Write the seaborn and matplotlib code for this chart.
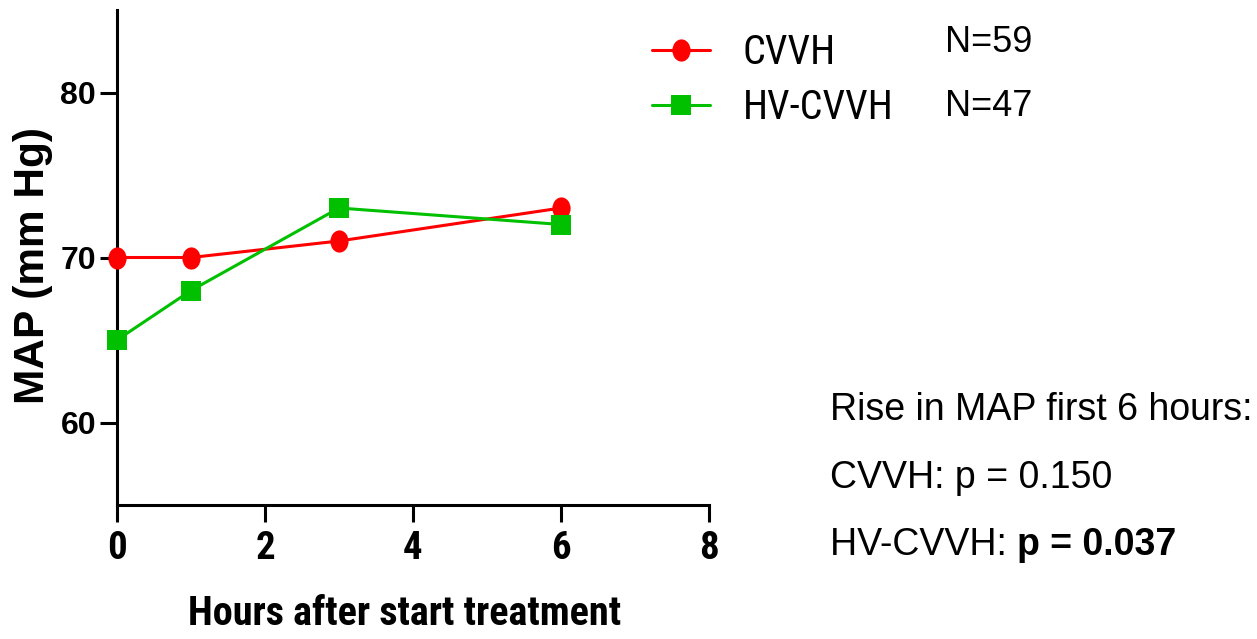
import matplotlib
matplotlib.use("Agg")
import matplotlib.pyplot as plt
from matplotlib.path import Path
from matplotlib.transforms import Affine2D
import seaborn as sns
import pandas as pd

# ---- data ----
hours = [0, 1, 3, 6]
cvvh_map = [70, 70, 71, 73]
hvcvvh_map = [65, 68, 73, 72]
series_names = ["CVVH", "HV-CVVH"]
n_labels = ["N=59", "N=47"]
x_ticks = [0, 2, 4, 6, 8]
y_ticks = [60, 70, 80]
x_label = "Hours after start treatment"
y_label = "MAP (mm Hg)"
note_lines = ["Rise in MAP first 6 hours:", "CVVH: p = 0.150", "HV-CVVH: "]
note_bold = "p = 0.037"

sns.set_style("ticks")
plt.rcParams["font.family"] = ["Liberation Sans", "DejaVu Sans"]
plt.rcParams["text.color"] = "black"
plt.rcParams["axes.labelcolor"] = "black"
plt.rcParams["xtick.color"] = "black"
plt.rcParams["ytick.color"] = "black"
plt.rcParams["axes.edgecolor"] = "black"

NARROW = ["Liberation Sans Narrow", "Roboto Condensed", "Archivo Narrow", "DejaVu Sans"]
ARIAL = ["Liberation Sans", "Arimo", "DejaVu Sans"]

RED = "#FF0000"
GREEN = "#00C000"

ellipse = Path(Affine2D().scale(0.82, 1.0).transform_path(Path.unit_circle()).vertices,
               Path.unit_circle().codes)

fig = plt.figure(figsize=(12.57, 6.39), dpi=100)
W, H = 1257, 639
ax = fig.add_axes([117 / W, 1 - 505 / H, (709 - 117) / W, (505 - 10) / H])

df_c = pd.DataFrame({"h": hours, "v": cvvh_map})
df_h = pd.DataFrame({"h": hours, "v": hvcvvh_map})

sns.lineplot(data=df_c, x="h", y="v", ax=ax, color=RED, marker=ellipse, markersize=16,
             markeredgewidth=0, linewidth=2.2, clip_on=False, zorder=5, label=series_names[0])
sns.lineplot(data=df_h, x="h", y="v", ax=ax, color=GREEN, marker="s", markersize=14.5,
             markeredgewidth=0, linewidth=2.2, clip_on=False, zorder=6, label=series_names[1])

ax.set_xlim(0, 8)
ax.set_ylim(55, 85)
ax.set_xticks(x_ticks)
ax.set_yticks(y_ticks)
ax.set_xticklabels([str(t) for t in x_ticks], family=NARROW, fontweight="bold", fontsize=28, color="black")
ax.set_yticklabels([str(t) for t in y_ticks], family=ARIAL, fontweight="bold", fontsize=23, color="black")
ax.set_xlabel("")
ax.set_ylabel("")
for s in ["top", "right"]:
    ax.spines[s].set_visible(False)
for s in ["left", "bottom"]:
    ax.spines[s].set_linewidth(2.2)
    ax.spines[s].set_color("black")
ax.tick_params(axis="both", width=2.2, color="black", labelcolor="black")
ax.tick_params(axis="y", length=12, pad=3)
ax.tick_params(axis="x", length=12, pad=6)
ax.set_facecolor("white")

fig.text(33 / W, 1 - 265 / H, y_label, rotation=90, ha="center", va="center",
         family=ARIAL, fontweight="bold", fontsize=30.5, color="black")
fig.text(405 / W, 1 - 614 / H, x_label, ha="center", va="center",
         family=NARROW, fontweight="bold", fontsize=29, color="black")

handles, labels = ax.get_legend_handles_labels()
leg = ax.legend(handles, labels, loc="center left", bbox_to_anchor=(652 / W, 1 - 80 / H),
                bbox_transform=fig.transFigure, frameon=False, borderpad=0, borderaxespad=0,
                handlelength=1.45, handletextpad=0.8, labelspacing=0.38,
                prop={"family": NARROW, "size": 29})
for t in leg.get_texts():
    t.set_color("black")

fig.text(945 / W, 1 - 42 / H, n_labels[0], ha="left", va="center", family=ARIAL, fontsize=26, color="black")
fig.text(945 / W, 1 - 107 / H, n_labels[1], ha="left", va="center", family=ARIAL, fontsize=26, color="black")

ys = [410, 478, 545]
fig.text(830 / W, 1 - ys[0] / H, note_lines[0], ha="left", va="center", family=ARIAL, fontsize=27, color="black")
fig.text(830 / W, 1 - ys[1] / H, note_lines[1], ha="left", va="center", family=ARIAL, fontsize=27, color="black")
t3 = fig.text(830 / W, 1 - (ys[2] + 10) / H, note_lines[2], ha="left", va="baseline",
              family=ARIAL, fontsize=27, color="black")
fig.canvas.draw()
ax.annotate(note_bold, xy=(1, 0), xycoords=t3, ha="left", va="bottom",
            family=ARIAL, fontweight="bold", fontsize=27, color="black", annotation_clip=False)

fig.savefig("out.png", dpi=100, facecolor="white")
